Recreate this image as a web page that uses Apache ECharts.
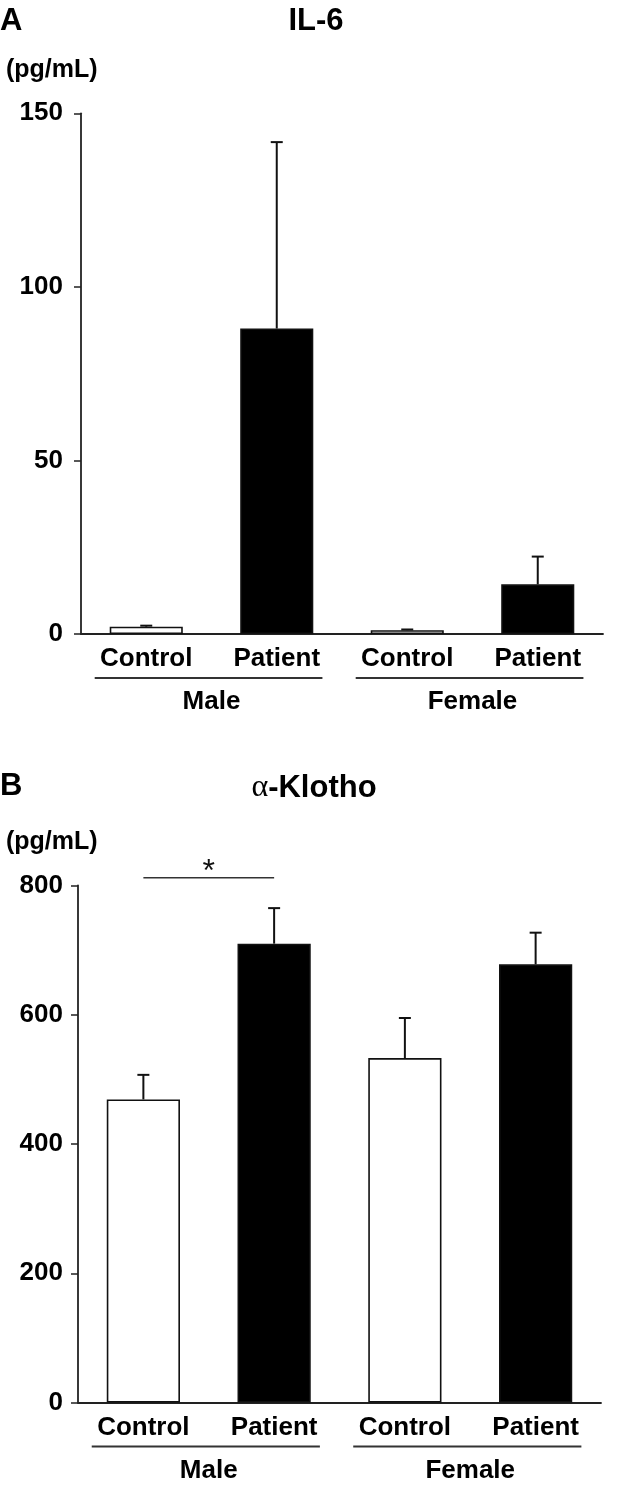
<!DOCTYPE html>
<html>
<head>
<meta charset="utf-8">
<title>IL-6 / α-Klotho</title>
<script src="https://cdn.jsdelivr.net/npm/echarts@6/dist/echarts.min.js"></script>
<style>
  html, body { margin: 0; padding: 0; background: #fff; }
  #chart { width: 629px; height: 1491px; }
</style>
</head>
<body>
<div id="chart"></div>
<script>
// groups on the x axis
const sexes = ['Male', 'Female']
const groups = ['Control', 'Patient']

// IL-6 (pg/mL), order: Male Control, Male Patient, Female Control, Female Patient
const il6Mean = [2.1, 88, 1.1, 14.3]
const il6Sd = [0.3, 53.7, 0.2, 8]

// α-Klotho (pg/mL), same order
const klothoMean = [469, 710, 533, 678]
const klothoSd = [38, 55, 62, 49]

// y axis ticks
const il6Ticks = [0, 50, 100, 150]
const klothoTicks = [0, 200, 400, 600, 800]

// significance bar: [from category, to category, level, mark]
const klothoSig = [[0, 1, 812, '*']]

const FONT = '"Liberation Sans", Arial, Helvetica, sans-serif'
const INK = '#222'

// categories like 'Male|Control', label shows only the group part
const categories = []
sexes.forEach(s => groups.forEach(g => categories.push(s + '|' + g)))

const chart = echarts.init(document.getElementById('chart'), null, { renderer: 'canvas' })

// one panel = grid + axes + bars + error bars + group brackets
function buildPanel(idx, box, mean, sd, ticks, labelMargin) {
  const grid = Object.assign({ containLabel: false }, box)

  const xAxis = {
    type: 'category',
    gridIndex: idx,
    data: categories,
    boundaryGap: true,
    axisTick: { show: false },
    axisLine: { show: true, lineStyle: { color: INK, width: 1.8 } },
    axisLabel: {
      interval: 0,
      margin: 12,
      color: '#000',
      fontSize: 26,
      fontWeight: 'bold',
      fontFamily: FONT,
      formatter: v => v.split('|')[1]
    },
    splitLine: { show: false }
  }

  const yAxis = {
    type: 'value',
    gridIndex: idx,
    min: ticks[0],
    max: ticks[ticks.length - 1],
    interval: ticks[1] - ticks[0],
    axisLine: { show: true, lineStyle: { color: INK, width: 1.8 } },
    axisTick: { show: true, length: 7, lineStyle: { color: INK, width: 1.5 } },
    axisLabel: {
      margin: labelMargin,
      color: '#000',
      fontSize: 26,
      fontWeight: 'bold',
      fontFamily: FONT
    },
    splitLine: { show: false }
  }

  const bars = {
    type: 'bar',
    xAxisIndex: idx,
    yAxisIndex: idx,
    barWidth: '56%',
    silent: true,
    data: mean.map((v, i) => ({
      value: v,
      itemStyle: {
        color: categories[i].endsWith('Patient') ? '#000' : '#fff',
        borderColor: '#111',
        borderWidth: 1.6
      }
    })),
    z: 2
  }

  // upper whiskers only
  const errors = {
    type: 'custom',
    xAxisIndex: idx,
    yAxisIndex: idx,
    silent: true,
    clip: false,
    z: 3,
    encode: { x: 0, y: 1 },
    data: mean.map((v, i) => [i, v, sd[i]]),
    renderItem: function (params, api) {
      const base = api.coord([api.value(0), api.value(1)])
      const top = api.coord([api.value(0), api.value(1) + api.value(2)])
      const st = { stroke: '#111', lineWidth: 2 }
      return {
        type: 'group',
        children: [
          { type: 'line', shape: { x1: base[0], y1: base[1], x2: top[0], y2: top[1] }, style: st },
          { type: 'line', shape: { x1: top[0] - 6, y1: top[1], x2: top[0] + 6, y2: top[1] }, style: st }
        ]
      }
    }
  }

  // underline + Male / Female below the group labels
  const brackets = {
    type: 'custom',
    xAxisIndex: idx,
    yAxisIndex: idx,
    silent: true,
    clip: false,
    encode: { x: [0, 1], y: 2 },
    data: sexes.map((s, k) => ({ name: s, value: [k * groups.length, k * groups.length + groups.length - 1, 0] })),
    renderItem: function (params, api) {
      const p0 = api.coord([api.value(0), 0])
      const p1 = api.coord([api.value(1), 0])
      const band = api.size([1, 0])[0]
      const lineY = p0[1] + 44
      return {
        type: 'group',
        children: [
          {
            type: 'line',
            shape: { x1: p0[0] - 0.395 * band, y1: lineY, x2: p1[0] + 0.35 * band, y2: lineY },
            style: { stroke: '#333', lineWidth: 1.8 }
          },
          {
            type: 'text',
            style: {
              text: sexes[params.dataIndex],
              x: (p0[0] + p1[0]) / 2,
              y: p0[1] + 68,
              align: 'center',
              verticalAlign: 'middle',
              fontSize: 26,
              fontWeight: 'bold',
              fontFamily: FONT,
              fill: '#000'
            }
          }
        ]
      }
    }
  }

  return { grid, xAxis, yAxis, series: [bars, errors, brackets] }
}

const panelA = buildPanel(0, { left: 81, top: 113.3, width: 522, height: 520.7 }, il6Mean, il6Sd, il6Ticks, 18)
const panelB = buildPanel(1, { left: 78, top: 885.5, width: 523, height: 517 }, klothoMean, klothoSd, klothoTicks, 15)

// significance line with asterisk
const sigSeries = {
  type: 'custom',
  xAxisIndex: 1,
  yAxisIndex: 1,
  silent: true,
  clip: false,
  encode: { x: [0, 1], y: 2 },
  data: klothoSig.map(d => ({ value: [d[0], d[1], d[2]], name: d[3] })),
  renderItem: function (params, api) {
    const p0 = api.coord([api.value(0), api.value(2)])
    const p1 = api.coord([api.value(1), api.value(2)])
    return {
      type: 'group',
      children: [
        { type: 'line', shape: { x1: p0[0], y1: p0[1], x2: p1[0], y2: p1[1] }, style: { stroke: '#333', lineWidth: 1.6 } },
        {
          type: 'text',
          style: {
            text: klothoSig[params.dataIndex][3],
            x: (p0[0] + p1[0]) / 2,
            y: p0[1] - 6,
            align: 'center',
            verticalAlign: 'middle',
            fontSize: 32,
            fontFamily: FONT,
            fill: '#111'
          }
        }
      ]
    }
  }
}

function txt(text, x, y, size, align, extra) {
  return {
    type: 'text',
    x: x,
    y: y,
    silent: true,
    style: Object.assign({
      text: text,
      align: align || 'left',
      verticalAlign: 'middle',
      fontSize: size,
      fontWeight: 'bold',
      fontFamily: FONT,
      fill: '#000'
    }, extra || {})
  }
}

const option = {
  animation: false,
  backgroundColor: '#fff',
  grid: [panelA.grid, panelB.grid],
  xAxis: [panelA.xAxis, panelB.xAxis],
  yAxis: [panelA.yAxis, panelB.yAxis],
  series: panelA.series.concat(panelB.series, [sigSeries]),
  graphic: [
    txt('A', 0, 21, 31),
    txt('IL-6', 316, 21, 31, 'center'),
    txt('(pg/mL)', 6, 70, 25),
    txt('B', 0, 786, 31),
    txt('{a|α}-Klotho', 314, 788, 31, 'center', {
      rich: {
        a: { fontFamily: '"Liberation Serif", "DejaVu Serif", serif', fontWeight: 'normal', fontSize: 32, fill: '#000' }
      }
    }),
    txt('(pg/mL)', 6, 842, 25)
  ]
}

chart.setOption(option)
</script>
</body>
</html>
